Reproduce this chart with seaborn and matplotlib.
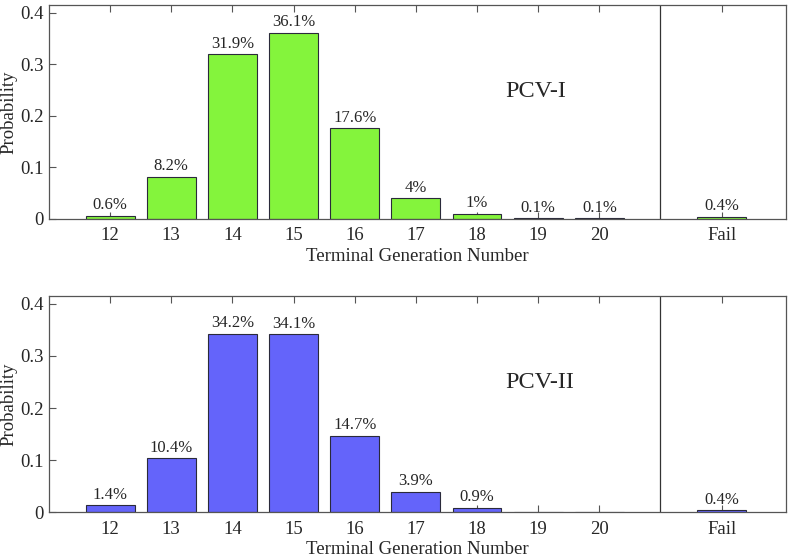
import matplotlib
matplotlib.use("Agg")
import matplotlib.pyplot as plt
import seaborn as sns
import pandas as pd

categories = ["12", "13", "14", "15", "16", "17", "18", "19", "20", "Fail"]
pcv1 = [0.006, 0.082, 0.319, 0.361, 0.176, 0.040, 0.010, 0.001, 0.001, 0.004]
pcv1_labels = ["0.6%", "8.2%", "31.9%", "36.1%", "17.6%", "4%", "1%", "0.1%", "0.1%", "0.4%"]
pcv2 = [0.014, 0.104, 0.342, 0.341, 0.147, 0.039, 0.009, 0.0, 0.0, 0.004]
pcv2_labels = ["1.4%", "10.4%", "34.2%", "34.1%", "14.7%", "3.9%", "0.9%", "", "", "0.4%"]

sns.set_style("ticks")
plt.rcParams["font.family"] = ["Liberation Serif", "DejaVu Serif"]
plt.rcParams["mathtext.fontset"] = "stix"

fig = plt.figure(figsize=(7.89, 5.57), dpi=100)
ax1 = fig.add_axes([0.062, 0.607, 0.934, 0.384])
ax2 = fig.add_axes([0.062, 0.080, 0.934, 0.389])

order = categories[:9] + ["gap"] + ["Fail"]

def draw(ax, vals, labels, color, title):
    df = pd.DataFrame({"gen": categories, "prob": vals})
    sns.barplot(data=df, x="gen", y="prob", order=order, color=color,
                saturation=1, width=0.8, edgecolor="#2a2a3a", linewidth=0.8, ax=ax)
    for i, (v, lab) in enumerate(zip(vals, labels)):
        if lab:
            pos = order.index(categories[i])
            ax.text(pos, v + 0.005, lab, ha="center", va="bottom", fontsize=12)
    ax.axvline(order.index("gap"), color="#333333", lw=0.9)
    ax.set_xlim(-1.0, 11.05)
    ax.set_ylim(0, 0.415)
    ticks = [order.index(c) for c in categories]
    ax.set_xticks(ticks)
    ax.set_xticklabels(categories, fontsize=13.5)
    ax.set_yticks([0, 0.1, 0.2, 0.3, 0.4])
    ax.set_yticklabels(["0", "0.1", "0.2", "0.3", "0.4"], fontsize=13.5)
    ax.tick_params(axis="x", direction="in", top=True, bottom=True, length=5, color="#555555", pad=6)
    ax.tick_params(axis="y", direction="in", left=True, right=False, length=5, color="#555555")
    for s in ax.spines.values():
        s.set_color("#555555")
        s.set_linewidth(0.9)
    ax.set_xlabel("Terminal Generation Number", fontsize=13.5, labelpad=2.5)
    ax.set_ylabel("Probability", fontsize=13.5, labelpad=2)
    ax.text(6.46, 0.248, title, ha="left", va="center", fontsize=17.5)

draw(ax1, pcv1, pcv1_labels, "#84F43C", "PCV-I")
draw(ax2, pcv2, pcv2_labels, "#6464FA", "PCV-II")

fig.savefig("out.png", dpi=100)
